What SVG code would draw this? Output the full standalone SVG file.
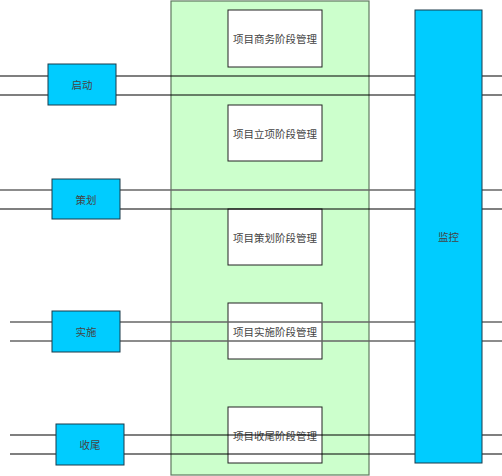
<svg xmlns="http://www.w3.org/2000/svg" width="502" height="476" viewBox="0 0 502 476">
<style>
.bg{fill:#CCFFCC;stroke:#5F7A5F;stroke-width:1.2}
.w{fill:#FFFFFF;stroke:#222;stroke-width:1}
.c{fill:#00CCFF;stroke:#1a3a4a;stroke-width:1}
.l{stroke:#000;stroke-width:1.2;fill:none}
.g{stroke:#666;stroke-width:1.4;fill:none}
text{font-family:"Noto Sans CJK SC","Noto Sans",sans-serif;font-size:10.5px;fill:#444;text-anchor:middle;dominant-baseline:central}
</style>
<rect width="502" height="476" fill="#fff"/>
<g id="container"><rect class="bg" x="171" y="1" width="198" height="474"/></g>
<g id="phase1"><rect class="w" x="228" y="10" width="94" height="57"/><text x="275" y="38.5">项目商务阶段管理</text></g>
<g id="phase2"><rect class="w" x="228" y="105" width="94" height="56"/><text x="275" y="133">项目立项阶段管理</text></g>
<g id="phase3"><rect class="w" x="228" y="209" width="94" height="56"/><text x="275" y="237">项目策划阶段管理</text></g>
<g id="phase4"><rect class="w" x="228" y="303" width="94" height="56"/><text x="275" y="331">项目实施阶段管理</text></g>
<g id="phase5"><rect class="w" x="228" y="407" width="94" height="56"/><text x="275" y="435">项目收尾阶段管理</text></g>
<g id="connectors">
<line class="l" x1="0" y1="76" x2="502" y2="76"/>
<line class="l" x1="0" y1="95" x2="502" y2="95"/>
<line class="g" x1="0" y1="190" x2="502" y2="190"/>
<line class="l" x1="0" y1="209" x2="502" y2="209"/>
<line class="g" x1="10" y1="322" x2="502" y2="322"/>
<line class="g" x1="10" y1="341" x2="502" y2="341"/>
<line class="l" x1="10" y1="435" x2="502" y2="435"/>
<line class="l" x1="10" y1="454" x2="502" y2="454"/>
</g>
<g id="start"><rect class="c" x="48" y="64" width="68" height="41"/><text x="82" y="84.5">启动</text></g>
<g id="plan"><rect class="c" x="52" y="179" width="68" height="40"/><text x="86" y="199">策划</text></g>
<g id="execute"><rect class="c" x="52" y="311" width="68" height="41"/><text x="86" y="331.5">实施</text></g>
<g id="close"><rect class="c" x="56" y="424" width="68" height="41"/><text x="90" y="444.5">收尾</text></g>
<g id="monitor"><rect class="c" x="415" y="10" width="67" height="453"/><text x="448.5" y="236">监控</text></g>
</svg>
